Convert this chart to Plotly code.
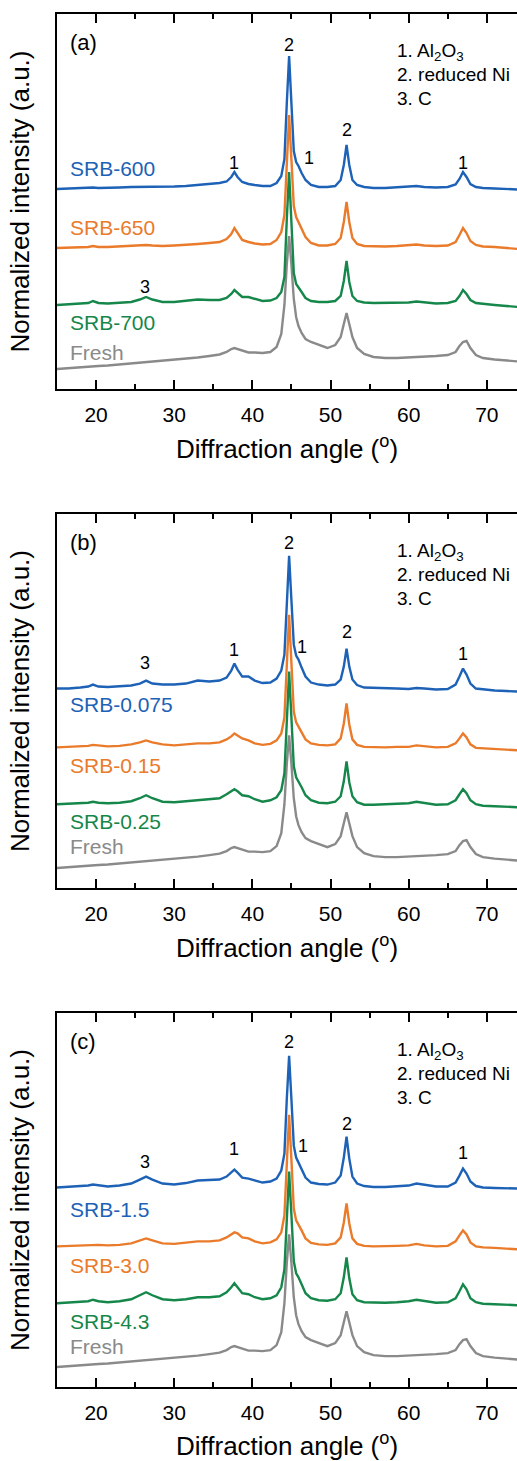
import plotly.graph_objects as go

# ---------------------------------------------------------------------------
# XRD patterns (normalized intensity, a.u.) on a shared 2-theta grid
# ---------------------------------------------------------------------------
ANGLE = [15, 16.5, 18, 19, 19.6, 20.3, 21.5, 23, 24.5, 25.6,
         26.4, 27.2, 28.5, 30, 31.5, 33, 34.5, 35.8, 36.7, 37.3,
         37.7, 38.1, 38.7, 39.5, 40.3, 41.3, 42.3, 43.1, 43.7, 44.1,
         44.4, 44.7, 45.0, 45.3, 45.6, 45.9, 46.3, 46.8, 47.5, 48.5,
         49.6, 50.6, 51.3, 51.7, 52.05, 52.4, 52.8, 53.4, 54.3, 55.5,
         57, 58.5, 60, 61, 62, 63.5, 65, 66.0, 66.5, 66.95,
         67.4, 67.9, 68.6, 69.5, 71, 72.5, 74]

FRESH = [0, 1, 1.5, 2, 2.5, 3, 3.5, 4.5, 5.5, 6,
         7, 7, 8, 9, 10, 11.5, 13, 14.5, 17, 20,
         21, 20, 18.5, 16.5, 16.5, 16, 17, 22, 35, 64,
         104, 133, 104, 70, 52, 43, 36, 30, 27, 24,
         21, 24, 32, 45, 56, 45, 32, 21, 15, 12,
         11, 11, 11.5, 12, 12, 13, 14, 17, 23, 27,
         28, 21, 14, 11, 9.5, 8.5, 7.5]

# (a) reduction temperature series
SRB_600 = [0, 0.5, 1, 1, 1.5, 1, 1, 1.5, 2, 2,
           2.5, 2, 2, 2.5, 3, 4, 5, 6, 7.5, 12,
           17, 12, 7, 5, 4, 3, 3, 6, 13, 30,
           85, 133, 85, 38, 27, 23, 16, 9, 4, 2,
           2, 3, 9, 24, 44, 24, 9, 4, 2, 1,
           1, 1.5, 2, 3, 2, 1.5, 2, 4.5, 10, 17,
           12, 5, 2, 1, 0.5, 0, -0.5]
SRB_650 = [0, 0.5, 1, 1, 2, 1, 1, 1.5, 2, 2.5,
           3, 2.5, 2, 2.5, 3, 4, 5, 6, 9, 14,
           20, 15, 8, 6, 4.5, 3.5, 4, 8, 16, 33,
           88, 133, 88, 42, 31, 26, 19, 11, 5, 2.5,
           2.5, 4, 10, 26, 46, 26, 10, 4, 2, 1.5,
           1.5, 2, 2.5, 3.5, 2.5, 2, 2.5, 6, 13, 20,
           15, 7, 3, 1.5, 1, 0, -1]
SRB_700 = [0, 1, 1.5, 2, 4, 2, 1.5, 2, 3, 5.5,
           8, 5.5, 3, 3, 4, 5.5, 5, 5, 7, 11,
           15, 12, 8, 8, 6, 4, 4.5, 7, 13, 28,
           85, 133, 82, 32, 21, 18, 13, 7, 4, 3,
           3, 4, 9, 24, 44, 23, 9, 4, 2.5, 2,
           2, 2, 2.5, 3.5, 2.5, 1.5, 2, 4, 9, 15,
           11, 5, 2, 1, 0, -1, -2]

# (b) series 0.075 / 0.15 / 0.25
SRB_0075 = [0, 0, 1, 2, 4, 2, 1.5, 2, 3, 5,
            8, 5, 4, 4, 5, 8, 7, 8, 11, 18,
            25, 19, 12, 12, 8, 5.5, 6, 10, 18, 34,
            88, 133, 88, 44, 33, 29, 21, 12, 6, 4,
            3, 4, 9, 22, 40, 22, 9, 3.5, 1, 0.5,
            0, 0, -0.5, 0.5, 0, -1, -0.5, 4, 12, 20,
            14, 5, 0, -1, -2, -2.5, -3]
SRB_015 = [0, 0.5, 1, 1.5, 2.5, 2, 1, 1.5, 3, 5,
           7, 5, 3, 2, 3, 4, 4, 5, 8, 11,
           14, 12, 9, 7, 4, 2.5, 3.5, 7, 14, 30,
           86, 133, 84, 36, 25, 21, 15, 8, 4, 2.5,
           2, 3, 9, 24, 44, 23, 8, 2.5, 0.5, 0,
           0, 0.5, 0.5, 2, 1, 0, 0.5, 4, 9, 14,
           10, 3, -0.5, -1, -1.5, -2.5, -3]
SRB_025 = [0, 0.5, 1, 1.5, 2.5, 1.5, 1, 1.5, 3, 6,
           9, 6, 2.5, 2, 3, 4, 4.5, 6, 10, 13,
           15, 13, 9, 8, 5, 2.5, 4, 7, 14, 31,
           87, 133, 86, 38, 27, 23, 17, 9, 4, 1.5,
           1, 2.5, 8, 23, 43, 22, 8, 2, -0.5, -0.5,
           0, 0, 1, 2.5, 1, -0.5, 0, 4, 10, 15,
           11, 4, 0, -1.5, -2, -2.5, -3]

# (c) series 1.5 / 3.0 / 4.3
SRB_15 = [0, 0.5, 1, 2, 3, 2, 1, 2, 4, 8,
          11, 8, 4, 3, 4.5, 7, 7.5, 8, 11, 15,
          18, 15, 10, 9, 7, 5, 6, 9, 17, 34,
          88, 132, 88, 42, 30, 25, 19, 10, 5, 3.5,
          3, 5, 12, 30, 51, 29, 11, 4, 1.5, 0.5,
          0.5, 1, 2, 4, 2.5, 1, 1, 5, 12, 19,
          14, 6, 1.5, 0, -0.5, -1, -1]
SRB_30 = [0, 0.5, 1, 1.5, 2, 1.5, 1, 1.5, 3, 6,
          8, 6, 3, 2.5, 3.5, 5, 5, 6, 9, 12,
          14, 13, 9, 8, 5, 3, 4, 7, 14, 31,
          86, 132, 86, 38, 26, 22, 16, 8, 3.5, 2,
          1.5, 3, 9, 24, 43, 23, 8, 2.5, 0.5, 0,
          0, 0.5, 1, 2.5, 1, 0, 0.5, 5, 11, 16,
          12, 4, 0, -1, -1.5, -2.5, -3]
SRB_43 = [0, 0.5, 1, 2, 3.5, 2, 1, 2, 4, 8,
          11, 8, 4, 3, 4, 6, 6, 7, 11, 16,
          20, 16, 10, 9, 6, 4, 5, 8, 16, 34,
          88, 132, 88, 42, 30, 26, 19, 10, 5, 3,
          2.5, 4, 10, 26, 46, 25, 9, 3, 1, 0.5,
          0.5, 1, 2, 3.5, 2, 0.5, 1, 5, 12, 19,
          14, 5, 1, -0.5, -1, -1.5, -2]

PANEL_TAGS = ["(a)", "(b)", "(c)"]
PANEL_SERIES = [
    [("Fresh", FRESH), ("SRB-700", SRB_700), ("SRB-650", SRB_650), ("SRB-600", SRB_600)],
    [("Fresh", FRESH), ("SRB-0.25", SRB_025), ("SRB-0.15", SRB_015), ("SRB-0.075", SRB_0075)],
    [("Fresh", FRESH), ("SRB-4.3", SRB_43), ("SRB-3.0", SRB_30), ("SRB-1.5", SRB_15)],
]
PHASES = ["1. Al<sub>2</sub>O<sub>3</sub>", "2. reduced Ni", "3. C"]
PEAK_TEXT = ["2", "1", "1", "2", "1", "3"]

# ---------------------------------------------------------------------------
# styling / layout
# ---------------------------------------------------------------------------
FONT = "Liberation Sans, Arial, sans-serif"
COLORS = ["#8a8a8a", "#15874a", "#e97b2b", "#1d62b6"]   # bottom -> top
OFFSETS = [20, 84, 141, 200]                            # vertical stacking (a.u.)
Y_MAX = 375

W, H = 517, 1461
LEFT = 57
PX_PER_DEG = 7.815
X_RANGE = [15.0, 15.0 + (W - LEFT) / PX_PER_DEG]
PANEL_TOP = [14, 514, 1013]
PANEL_BOTTOM = [389, 888, 1387]

# annotation placement per panel (x in degrees, y in a.u.)
SERIES_LABEL_Y = [[37, 67, 162, 221], [42, 67, 123, 184], [41, 66, 122, 178]]
PEAK_LABEL_X = [[44.7, 37.7, 47.3, 52.1, 66.9, 26.3],
                [44.7, 37.7, 46.4, 52.1, 66.9, 26.3],
                [44.7, 37.7, 46.5, 52.1, 66.9, 26.3]]
PEAK_LABEL_Y = [[344, 226, 231, 259, 226, 102],
                [346, 239, 242, 257, 235, 226],
                [346, 239, 242, 264, 235, 226]]
PHASE_X = 58.3
PHASE_Y = [337, 314, 290]

fig = go.Figure()
annotations = []

for p in range(3):
    s = "" if p == 0 else str(p + 1)
    xref, yref = "x" + s, "y" + s

    for k, (name, values) in enumerate(PANEL_SERIES[p]):
        fig.add_trace(go.Scatter(
            x=ANGLE,
            y=[OFFSETS[k] + v for v in values],
            mode="lines",
            line=dict(color=COLORS[k], width=2.4),
            name=name,
            showlegend=False,
            hoverinfo="skip",
            xaxis=xref, yaxis=yref,
        ))
        annotations.append(dict(
            x=16.4, y=SERIES_LABEL_Y[p][k], xref=xref, yref=yref,
            text=name, showarrow=False, xanchor="left", yanchor="middle",
            font=dict(family=FONT, size=21, color=COLORS[k]),
        ))

    for t, text in enumerate(PEAK_TEXT):
        annotations.append(dict(
            x=PEAK_LABEL_X[p][t], y=PEAK_LABEL_Y[p][t], xref=xref, yref=yref,
            text=text, showarrow=False, xanchor="center", yanchor="middle",
            font=dict(family=FONT, size=18, color="black"),
        ))

    for j, phase in enumerate(PHASES):
        annotations.append(dict(
            x=PHASE_X, y=PHASE_Y[j], xref=xref, yref=yref,
            text=phase, showarrow=False, xanchor="left", yanchor="middle",
            font=dict(family=FONT, size=19, color="black"),
        ))

    annotations.append(dict(
        x=16.4, y=346, xref=xref, yref=yref,
        text=PANEL_TAGS[p], showarrow=False, xanchor="left", yanchor="middle",
        font=dict(family=FONT, size=22, color="black"),
    ))

    dom = [1 - PANEL_BOTTOM[p] / H, 1 - PANEL_TOP[p] / H]
    fig.update_layout(**{
        "xaxis" + s: dict(
            domain=[0, 1], anchor=yref, range=X_RANGE,
            tickmode="linear", tick0=0, dtick=10,
            ticks="inside", ticklen=9, tickwidth=1.5, tickcolor="black",
            ticklabelstandoff=6,
            minor=dict(ticks="inside", tick0=0, dtick=5, ticklen=5,
                       tickwidth=1.5, tickcolor="black", showgrid=False),
            showline=True, linecolor="black", linewidth=2, mirror="ticks",
            showgrid=False, zeroline=False, automargin=False,
            tickfont=dict(family=FONT, size=21, color="black"),
            title=dict(text="Diffraction angle (<sup>o</sup>)", standoff=15,
                       font=dict(family=FONT, size=26, color="black")),
        ),
        "yaxis" + s: dict(
            domain=dom, anchor=xref, range=[0, Y_MAX],
            showline=True, linecolor="black", linewidth=2, mirror=False,
            ticks="", showticklabels=False,
            showgrid=False, zeroline=False, automargin=False,
            title=dict(text="Normalized intensity (a.u.)", standoff=18,
                       font=dict(family=FONT, size=26, color="black")),
        ),
    })

fig.update_layout(
    width=W, height=H,
    margin=dict(l=LEFT, r=0, t=0, b=0),
    paper_bgcolor="white", plot_bgcolor="white",
    font=dict(family=FONT, color="black"),
    annotations=annotations,
)

fig.write_html("out.html")
